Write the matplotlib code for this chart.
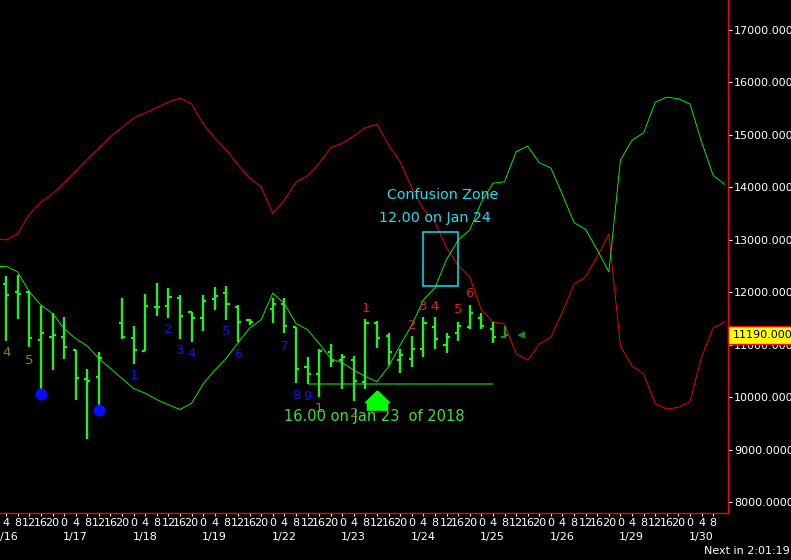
import matplotlib.pyplot as plt
from matplotlib.path import Path
from matplotlib.patches import Rectangle
from matplotlib.ticker import FormatStrFormatter

# H4 bars, x = bar index (6 bars per day), index 10 and 23 have no bar
days = ["1/16", "1/17", "1/18", "1/19", "1/22", "1/23", "1/24", "1/25", "1/26", "1/29", "1/30"]
hours = [0, 4, 8, 12, 16, 20]

bar_idx = [1, 2, 3, 4, 5, 6, 7, 8, 9,
           11, 12, 13, 14, 15, 16, 17, 18, 19, 20, 21, 22,
           24, 25, 26, 27, 28, 29, 30, 31, 32, 33, 34, 35, 36, 37, 38, 39, 40, 41, 42, 43, 44]
opens = [12161, 12018, 12009, 11100, 11157, 11152, 10898, 10357, 10395,
         11424, 11138, 10891, 11729, 11748, 11900, 11622, 11519, 11881, 11996, 11729, 11476,
         11685, 11775, 11348, 10574, 10441, 10862, 10713, 10713, 10300, 11424, 11170, 10713,
         10733, 10917, 11348, 11000, 11234, 11336, 11514, 11298, 11157]
highs = [12314, 12333, 12034, 11742, 11603, 11533, 10898, 10538, 10860,
         11895, 11361, 11971, 12180, 12085, 11952, 11622, 11952, 12098, 12123, 11761, 11489,
         11900, 11900, 11348, 10765, 10917, 11013, 10822, 10790, 11489, 11456, 11222, 10917,
         11171, 11527, 11527, 11234, 11443, 11761, 11615, 11443, 11367]
lows = [11081, 11495, 10961, 10142, 10523, 10738, 9952, 9209, 9761,
        11119, 10643, 10885, 11557, 11519, 11119, 11062, 11272, 11672, 11476, 11062, 11381,
        11413, 11222, 10270, 10256, 10015, 10586, 10156, 9939, 10156, 10936, 10618, 10471,
        10586, 10776, 10929, 10841, 11075, 11298, 11298, 11032, 11132]
closes = [11957, 11980, 11138, 11234, 11195, 10967, 10376, 10319, 10757,
          11157, 10904, 11748, 11729, 11908, 11557, 11519, 11843, 11938, 11775, 11443, 11443,
          11775, 11367, 10542, 10447, 10891, 10691, 10776, 10313, 11424, 11138, 10866, 10809,
          10917, 11424, 11108, 11152, 11367, 11603, 11367, 11146, 11190]

# two envelope lines, one value per bar index 0..63
red_line = [13020, 13000, 13120, 13490, 13720, 13880, 14090, 14310, 14540, 14750,
            14970, 15140, 15320, 15420, 15520, 15630, 15700, 15590, 15210, 14940,
            14710, 14430, 14180, 14010, 13510, 13760, 14100, 14220, 14460, 14760,
            14840, 14980, 15140, 15200, 14810, 14490, 13990, 13590, 13340, 12850,
            12520, 12290, 11670, 11440, 11400, 10830, 10710, 11020, 11150, 11630,
            12160, 12300, 12690, 13110, 10980, 10600, 10450, 9880, 9780, 9810,
            9920, 10770, 11320, 11440]
green_line = [12490, 12500, 12390, 12010, 11760, 11600, 11310, 11120, 10980, 10740,
              10550, 10360, 10170, 10080, 9960, 9860, 9770, 9890, 10260, 10520,
              10750, 11040, 11320, 11480, 11990, 11790, 11410, 11290, 11030, 10740,
              10660, 10520, 10400, 10300, 10590, 11000, 11380, 11860, 12090, 12630,
              13000, 13190, 13720, 14080, 14110, 14680, 14790, 14470, 14370, 13860,
              13330, 13200, 12810, 12390, 14520, 14900, 15040, 15620, 15720, 15690,
              15590, 14870, 14230, 14060]

# sequence counts above/below bars
count_text = ["4", "5", "1", "2", "3", "4", "5", "6", "7", "8", "9", "1", "2",
              "1", "2", "3", "4", "5", "6"]
count_x = [1, 3, 12, 15, 16, 17, 20, 21, 25, 26, 27, 28, 31,
           32, 36, 37, 38, 40, 41]
count_y = [10847, 10713, 10409, 11285, 10891, 10828, 11253, 10822, 10980, 10028, 10015, 9793, 9697,
           11698, 11380, 11742, 11742, 11666, 11971]
count_color = ["#8b7a20"] * 2 + ["#1515dd"] * 9 + ["#8b7a20"] * 2 + ["#dd2020"] * 6

dot_x = [4, 9]
dot_y = [10070, 9760]

support_level = 10250
support_from, support_to = 27, 43
signal_x, signal_y = 33, 9960
zone_x0, zone_x1 = 37, 40
zone_lo, zone_hi = 12120, 13150
last_price = 11190

fig = plt.figure(figsize=(7.91, 5.6), dpi=100, facecolor="black")
ax = fig.add_axes([0, 47 / 560, 728 / 791, 513 / 560], facecolor="black")

ax.plot(range(len(red_line)), red_line, color="#ff0000", lw=0.65, zorder=2)
ax.plot(range(len(green_line)), green_line, color="#00ff00", lw=0.65, zorder=2)

# OHLC bars, the last (forming) bar in darker green
w = 0.27
for n, (i, o, h, l, c) in enumerate(zip(bar_idx, opens, highs, lows, closes)):
    col = "#1a9a1a" if n == len(bar_idx) - 1 else "#22ee22"
    ax.vlines(i, l, h, color=col, lw=1.7, zorder=3)
    ax.hlines(o, i - w, i, color=col, lw=1.6, zorder=3)
    ax.hlines(c, i, i + w, color=col, lw=1.6, zorder=3)

ax.plot(dot_x, dot_y, "o", color="#0a0aff", ms=7.7, zorder=4)

for t, x, y, c in zip(count_text, count_x, count_y, count_color):
    ax.text(x, y, t, color=c, fontsize=9.5, ha="center", va="center", zorder=4)

ax.hlines(support_level, support_from, support_to, color="#1e9a1e", lw=1.1, zorder=2)

house = Path([(0, 0.79), (1, -0.18), (0.83, -0.18), (0.83, -0.79),
              (-0.83, -0.79), (-0.83, -0.18), (-1, -0.18), (0, 0.79)])
ax.plot([signal_x], [signal_y], marker=house, ms=17.5, color="#00ff00", ls="none", zorder=5)
ax.text(signal_x - 0.2, 9628, "16.00 on Jan 23  of 2018", color="#3ee03e",
        fontsize=10.5, ha="center", va="center", zorder=5)

ax.add_patch(Rectangle((zone_x0, zone_lo), zone_x1 - zone_x0, zone_hi - zone_lo,
                       fill=False, edgecolor="#00e5f0", lw=1.1, zorder=5))
ax.text(38.7, 13857, "Confusion Zone", color="#22ddee", fontsize=10.3,
        ha="center", va="center", zorder=5)
ax.text(38.0, 13419, "12.00 on Jan 24", color="#22ddee", fontsize=10.3,
        ha="center", va="center", zorder=5)

ax.annotate("", xy=(44.85, last_price), xytext=(45.8, last_price),
            arrowprops=dict(arrowstyle="-|>", color="#1a8a1a", lw=1.4, mutation_scale=9))

ax.set_xlim(0.466, 63.28)
ax.set_ylim(7799, 17571)

# right price axis
ax.yaxis.tick_right()
ax.set_yticks(range(8000, 17001, 1000))
ax.yaxis.set_major_formatter(FormatStrFormatter("%.5f"))
ax.tick_params(axis="y", colors="white", labelsize=8, length=3, pad=1.5)

# time axis: hour labels plus day labels
ax.set_xticks(range(1, 63))
ax.set_xticklabels([])
ax.tick_params(axis="x", colors="white", length=2)
xt = ax.get_xaxis_transform()
for i in range(1, 63):
    ax.text(i, -0.0195, str(hours[i % 6]), transform=xt, color="white", fontsize=8,
            ha="center", va="center", clip_on=False)
for d, day in enumerate(days):
    ax.text(d * 6 - 0.1, -0.047, day, transform=xt, color="white", fontsize=8,
            ha="left", va="center", clip_on=False)

for s in ["top", "left"]:
    ax.spines[s].set_visible(False)
for s in ["right", "bottom"]:
    ax.spines[s].set_color("#ff0000")
    ax.spines[s].set_linewidth(1)

ax.text(1.006, last_price, "11190.00000", transform=ax.get_yaxis_transform(), color="black",
        fontsize=8, ha="left", va="center", zorder=10, clip_on=False,
        bbox=dict(boxstyle="square,pad=0.35", facecolor="#ffff00", edgecolor="#ff0000", lw=1))

fig.text(0.998, 0.016, "Next in 2:01:19", color="white", fontsize=8, ha="right", va="center")

fig.savefig("out.png", dpi=100, facecolor="black")
